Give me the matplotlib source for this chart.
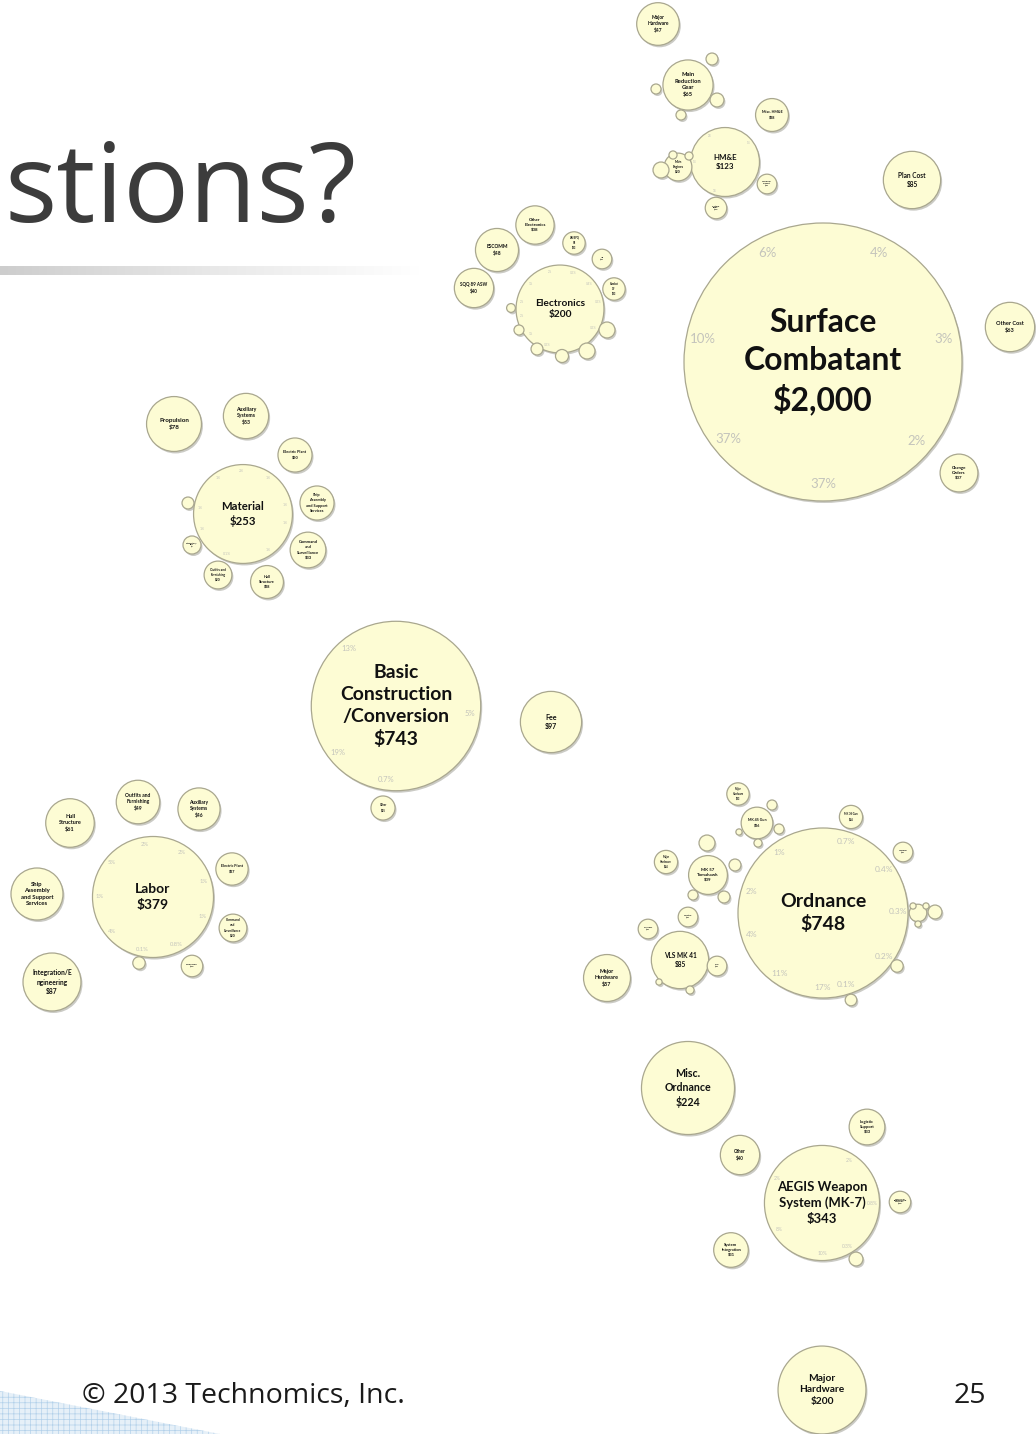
import numpy as np
import matplotlib.pyplot as plt
from matplotlib.patches import Circle, Polygon
from matplotlib.colors import LinearSegmentedColormap

# ---- cost breakdown bubbles ($M) ----
# each group: labels, values, bubble centres on the slide (pixels)
surface_labels = ['Surface\nCombatant\n$2,000', 'Plan Cost\n$85', 'Other Cost\n$63', 'Change\nOrders\n$37']
surface_values = [2000, 85, 63, 37]
surface_x = [823, 912, 1010, 959]
surface_y = [362, 180, 327, 473]

hme_labels = ['HM&E\n$123', 'Major\nHardware\n$47', 'Main\nReduction\nGear\n$65', 'Misc. HM&E\n$28',
              'Main\nEngines\n$20', '', '', '', 'Technical\nSupport\n$10', 'System\nEngr.\n$12',
              '', '', '', '']
hme_values = [123, 47, 65, 28, 20, 6.6, 1.7, 1.7, 10, 12, 3.7, 2.6, 5, 2.6]
hme_x = [725, 658, 688, 772, 678, 661, 673, 689, 767, 716, 712, 656, 717, 681]
hme_y = [162, 24, 85, 115, 167, 170, 155, 156, 184, 208, 59, 89, 100, 115]

elec_labels = ['Electronics\n$200', 'SQQ 89 ASW\n$40', 'ESCOMM\n$48', 'Other\nElectronics\n$38',
               'AN/SPQ\n9B\n$13', 'IFF\n$10', 'Combat\nDF\n$13', '', '', '', '', '', '']
elec_values = [200, 40, 48, 38, 13, 10, 13, 6.6, 6.6, 4.4, 3.7, 2.6, 2]
elec_x = [560, 474, 497, 535, 574, 602, 614, 607, 587, 562, 537, 519, 511]
elec_y = [309, 288, 250, 225, 243, 259, 289, 330, 351, 356, 349, 330, 308]

material_labels = ['Material\n$253', 'Propulsion\n$78', 'Auxiliary\nSystems\n$53', 'Electric Plant\n$30',
                   'Ship\nAssembly\nand Support\nServices', 'Command\nand\nSurveillance\n$33',
                   'Hull\nStructure\n$28', 'Outfits and\nFurnishing\n$20', 'Integration/\nEng.\n$8', '']
material_values = [253, 78, 53, 30, 30, 33, 28, 20, 8.4, 3.7]
material_x = [243, 174, 246, 295, 317, 308, 267, 218, 192, 188]
material_y = [514, 424, 416, 455, 503, 550, 582, 575, 545, 503]

basic_labels = ['Basic\nConstruction\n/Conversion\n$743', 'Fee\n$97', 'Other\n$15']
basic_values = [743, 97, 15]
basic_x = [396, 551, 383]
basic_y = [706, 722, 808]

labor_labels = ['Labor\n$379', 'Hull\nStructure\n$61', 'Outfits and\nFurnishing\n$49', 'Auxiliary\nSystems\n$46',
                'Electric Plant\n$27', 'Command\nand\nSurveillance\n$20', 'Propulsion\n$12', '',
                'Ship\nAssembly\nand Support\nServices', 'Integration/E\nngineering\n$87']
labor_values = [379, 61, 49, 46, 27, 20, 12, 4, 70, 87]
labor_x = [153, 70, 138, 199, 232, 233, 192, 139, 37, 52]
labor_y = [897, 823, 802, 809, 869, 928, 966, 963, 894, 982]

ord_labels = ['Ordnance\n$748', 'VLS MK 41\n$85', 'Major\nHardware\n$57', 'MK 57\nTomahawk\n$39',
              'Major\nHardware\n$14', 'MK 45 Gun\n$26', 'Major\nHardware\n$13', 'MK 38 Gun\n$14',
              'Harpoon\n$10', '', '', '', '', 'Launcher\n$10', 'Canister\n$10', 'Ship\n$10',
              '', '', '', '', '', '', '', '', '', '', '', '', '']
ord_values = [748, 85, 57, 39, 14, 26, 13, 14, 10, 8, 5, 4, 3.5, 10, 10, 10,
              1, 1.7, 3.7, 2.6, 3.7, 6.6, 2.6, 1, 1.7, 2.6, 1, 1, 1]
ord_x = [823, 680, 607, 708, 666, 757, 738, 851, 903, 918, 935, 897, 851, 648, 688, 717,
         659, 690, 735, 693, 724, 707, 772, 739, 758, 779, 913, 926, 918]
ord_y = [913, 960, 978, 875, 862, 823, 794, 817, 852, 913, 912, 966, 1000, 929, 917, 966,
         982, 990, 865, 895, 897, 843, 805, 832, 843, 829, 906, 906, 924]

aegis_labels = ['AEGIS Weapon\nSystem (MK-7)\n$343', 'Misc.\nOrdnance\n$224', 'Other\n$40',
                'Logistic\nSupport\n$33', 'Technical\nEngineering\nServices\n$12', 'System\nIntegration\n$31',
                '', 'Major\nHardware\n$200']
aegis_values = [343, 224, 40, 33, 12, 31, 5, 200]
aegis_x = [822, 688, 740, 867, 900, 731, 856, 822]
aegis_y = [1203, 1088, 1155, 1127, 1202, 1250, 1259, 1390]

# percent shares printed round the inside of the parent bubble
surface_pct = ['6%', '4%', '10%', '3%', '37%', '2%', '37%']
surface_ang = [117, 63, 169, 11, -141, -40, -90]
basic_pct = ['13%', '5%', '19%', '0.7%']
basic_ang = [129, -6, -141, -98]
ord_pct = ['0.7%', '1%', '0.4%', '2%', '0.3%', '4%', '0.2%', '11%', '17%', '0.1%']
ord_ang = [72, 126, 36, 163, 1, -163, -36, -126, -90, -72]
labor_pct = ['2%', '2%', '5%', '1%', '1%', '1%', '4%', '0.8%', '0.1%']
labor_ang = [99, 57, 140, 17, 180, -21, -140, -64, -102]
aegis_pct = ['2%', '2%', '0.8%', '8%', '10%', '0.3%']
aegis_ang = [58, 151, -1, -148, -90, -60]
material_pct = ['2%', '1%', '1%', '1%', '1%', '1%', '1%', '1%', '0.1%']
material_ang = [92, 55, 125, 12, 172, -12, -160, -55, -112]
elec_pct = ['2%', '0.3%', '0.4%', '1%', '2%', '2%', '1%', '0.3%', '0.3%', '0.3%']
elec_ang = [105, 70, 40, 140, 170, 190, 220, 250, -30, 10]
hme_pct = ['2%', '1%', '1%', '3%']
hme_ang = [120, 40, 180, -110]

groups = [
    (surface_labels, surface_values, surface_x, surface_y),
    (hme_labels, hme_values, hme_x, hme_y),
    (elec_labels, elec_values, elec_x, elec_y),
    (material_labels, material_values, material_x, material_y),
    (basic_labels, basic_values, basic_x, basic_y),
    (labor_labels, labor_values, labor_x, labor_y),
    (ord_labels, ord_values, ord_x, ord_y),
    (aegis_labels, aegis_values, aegis_x, aegis_y),
]
pct_sets = [
    (surface_pct, surface_ang, surface_values, surface_x, surface_y, 9.5),
    (basic_pct, basic_ang, basic_values, basic_x, basic_y, 5.5),
    (ord_pct, ord_ang, ord_values, ord_x, ord_y, 6),
    (labor_pct, labor_ang, labor_values, labor_x, labor_y, 4.2),
    (aegis_pct, aegis_ang, aegis_values, aegis_x, aegis_y, 3.6),
    (material_pct, material_ang, material_values, material_x, material_y, 2.6),
    (elec_pct, elec_ang, elec_values, elec_x, elec_y, 2.2),
    (hme_pct, hme_ang, hme_values, hme_x, hme_y, 2),
]

K = 139 / np.sqrt(2000)   # bubble area proportional to cost


def radius(v):
    return K * np.sqrt(v)


fig = plt.figure(figsize=(10.36, 14.34), dpi=100)
ax = fig.add_axes([0, 0, 1, 1])

for labels, vals, xs, ys in groups:
    for lab, v, x, y in zip(labels, vals, xs, ys):
        r = radius(v)
        ax.add_patch(Circle((x + 1.5, y + 2), r, fc='#8c8c80', ec='none', alpha=0.45, zorder=1))
        ax.add_patch(Circle((x, y), r, fc='#fdfcd4', ec='#a9a78f', lw=0.9, zorder=2))
        if lab:
            ax.text(x, y, lab, ha='center', va='center', fontsize=max(0.165 * r, 1.0),
                    fontweight='bold', family='Lato', linespacing=1.35, color='#111111', zorder=4)

for pcts, angs, vals, xs, ys, fs in pct_sets:
    r = radius(vals[0])
    for p, a in zip(pcts, angs):
        t = np.radians(a)
        ax.text(xs[0] + 0.88 * r * np.cos(t), ys[0] - 0.88 * r * np.sin(t), p,
                ha='center', va='center', fontsize=fs, family='Lato', color='#c4c4bc', zorder=3)

# slide furniture
ax.text(4, 222, 'stions?', fontsize=79, color='#3c3c3c', family='Open Sans', va='baseline', zorder=5)
fade = LinearSegmentedColormap.from_list('fade', ['#cdcdcd', '#e8e8e8', '#ffffff'])
ax.imshow(np.linspace(0, 1, 256)[None, :], extent=(0, 420, 275, 266), cmap=fade,
          aspect='auto', zorder=0)

plt.rcParams['hatch.linewidth'] = 0.5
ax.add_patch(Polygon([(0, 1391), (0, 1434), (220, 1434)], closed=True, fc='#e6f0f8',
                     ec='#b3d1ea', lw=0, hatch='+++', zorder=0))
ax.text(82, 1403, '\u00a9 2013 Technomics, Inc.', fontsize=20.5, family='Open Sans', color='#1a1a1a',
        va='baseline', zorder=5)
ax.text(986, 1403, '25', fontsize=20.5, family='Open Sans', color='#1a1a1a', ha='right',
        va='baseline', zorder=5)

ax.set_xlim(0, 1036)
ax.set_ylim(1434, 0)
ax.axis('off')
fig.savefig('out.png', dpi=100, facecolor='white')
